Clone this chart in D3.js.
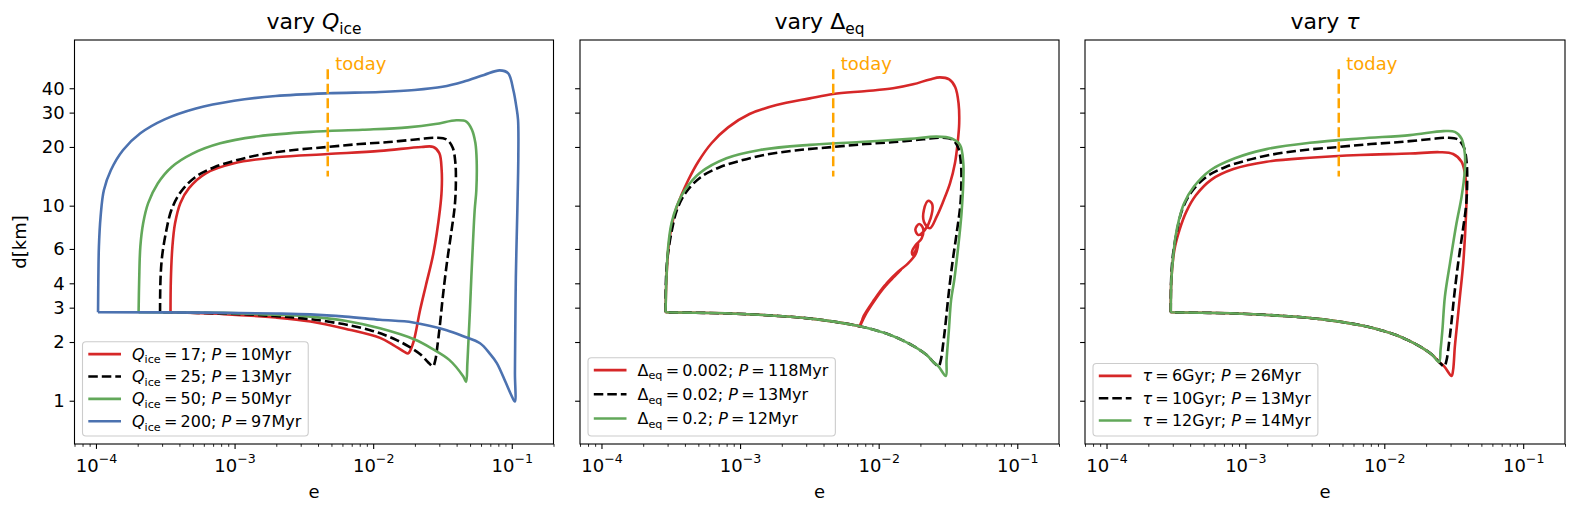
<!DOCTYPE html>
<html><head><meta charset="utf-8">
<script src="https://cdn.jsdelivr.net/npm/d3@7"></script>
<style>
html,body{margin:0;padding:0;background:#fff;overflow:hidden;}
text{font-family:"DejaVu Sans",sans-serif;}
</style></head><body>
<svg id="chart" width="1578" height="516"></svg>
<script>
// ---------------- DATA ----------------
const xMajor = [1e-4, 1e-3, 1e-2, 1e-1];
const xMajorExp = ["\u22124", "\u22123", "\u22122", "\u22121"];
const yTicks = [1, 2, 3, 4, 6, 10, 20, 30, 40];
const eToday = 0.0047;
const todayD = [50, 14.1];

// common lower branch (panels 2-3 and baseline run), from right to left
const bottomE = [0.0305, 0.0270, 0.0248, 0.0221, 0.0180, 0.0149, 0.0120, 0.0099, 0.0069, 0.0035, 0.0019, 0.00085, 0.00029];
const bottomD = [1.34, 1.50, 1.58, 1.72, 1.90, 2.04, 2.18, 2.28, 2.43, 2.62, 2.72, 2.80, 2.84];

// baseline (black dashed): Q_ice=25, Delta_eq=0.02, tau=10Gyr  (upper part)
const baseE = [2.9e-4, 2.92e-4, 3.0e-4, 3.2e-4, 3.5e-4, 4.1e-4, 5.2e-4, 7.2e-4, 1.0e-3, 1.5e-3, 2.5e-3, 4.7e-3, 8.0e-3, 0.0130, 0.0210, 0.0285, 0.0340, 0.0375, 0.0392, 0.0395, 0.0388, 0.0368, 0.0340, 0.0318, 0.0304, 0.0293, 0.0280];
const baseD = [2.84, 4.16, 5.5, 7.3, 9.5, 11.8, 14.0, 15.8, 17.0, 18.2, 19.2, 20.0, 20.7, 21.2, 21.9, 22.3, 21.8, 19.8, 16.5, 13.0, 10.0, 7.5, 5.06, 3.41, 2.50, 2.0, 1.6];

// panel 1: vary Q_ice
const q17E = [3.45e-4, 3.47e-4, 3.56e-4, 3.72e-4, 4.06e-4, 4.69e-4, 6.25e-4, 9.93e-4, 1.98e-3, 4.71e-3, 0.0112, 0.0223, 0.0272, 0.0300, 0.0312, 0.0312, 0.0303, 0.0272, 0.0240, 0.0218, 0.0194, 0.0179, 0.0168, 0.0140, 0.0112, 6.28e-3, 3.53e-3, 1.98e-3, 8.36e-4, 3.45e-4];
const q17D = [2.84, 4.16, 6.17, 8.12, 10.3, 12.3, 14.7, 16.5, 17.7, 18.4, 19.1, 20.0, 20.0, 18.6, 15.2, 12.0, 9.5, 5.7, 3.9, 2.92, 1.97, 1.75, 1.78, 1.93, 2.10, 2.34, 2.55, 2.67, 2.78, 2.84];

const q50E = [2.03e-4, 2.05e-4, 2.09e-4, 2.19e-4, 2.38e-4, 2.79e-4, 3.52e-4, 4.97e-4, 7.88e-4, 1.49e-3, 3.53e-3, 8.38e-3, 0.0177, 0.0281, 0.0398, 0.0470, 0.0515, 0.0546, 0.0558, 0.0555, 0.0540, 0.0525, 0.0511, 0.0500, 0.0486, 0.0478, 0.0468, 0.0447, 0.0354, 0.0266, 0.0199, 0.0112, 6.28e-3, 3.53e-3, 1.98e-3, 8.36e-4, 2.03e-4];
const q50D = [2.84, 4.16, 6.17, 8.12, 10.3, 13.0, 15.8, 18.5, 20.9, 22.7, 23.9, 24.5, 25.2, 26.2, 27.4, 27.0, 24.6, 21.0, 17.1, 12.0, 9.5, 6.5, 4.32, 3.0, 1.97, 1.55, 1.25, 1.33, 1.62, 1.85, 2.06, 2.35, 2.57, 2.70, 2.76, 2.82, 2.84];

const q200E = [1.035e-4, 1.04e-4, 1.05e-4, 1.08e-4, 1.14e-4, 1.28e-4, 1.57e-4, 2.09e-4, 3.13e-4, 5.26e-4, 9.93e-4, 1.98e-3, 4.71e-3, 0.0112, 0.0199, 0.0316, 0.0447, 0.0631, 0.0818, 0.094, 0.1026, 0.108, 0.111, 0.1115, 0.1097, 0.107, 0.1058, 0.1054, 0.1052, 0.0985, 0.090, 0.078, 0.0696, 0.059, 0.0447, 0.0339, 0.0194, 0.0112, 6.28e-3, 3.53e-3, 1.98e-3, 6.25e-4, 1.035e-4];
const q200D = [2.84, 4.16, 6.17, 8.79, 12.0, 15.2, 19.3, 23.5, 27.7, 31.5, 34.5, 36.5, 37.7, 38.3, 39.2, 40.7, 43.2, 46.8, 49.4, 47.8, 39.2, 32.0, 27.5, 18.0, 9.5, 4.3, 1.97, 1.38, 0.99, 1.08, 1.25, 1.56, 1.74, 1.97, 2.14, 2.30, 2.52, 2.60, 2.70, 2.77, 2.80, 2.83, 2.84];

// panel 2: vary Delta_eq
const d002E = [2.9e-4, 2.94e-4, 3.05e-4, 3.20e-4, 3.43e-4, 3.77e-4, 4.22e-4, 4.99e-4, 6.22e-4, 8.20e-4, 1.17e-3, 1.83e-3, 3.18e-3, 4.70e-3, 8.17e-3, 0.0127, 0.0177, 0.0234, 0.0277, 0.0323, 0.0357, 0.0377, 0.0381, 0.0371, 0.0355, 0.0327, 0.0292, 0.0262, 0.0234, 0.0212, 0.0212, 0.0228, 0.0243, 0.0237, 0.0215, 0.0193, 0.0184, 0.0196, 0.0209, 0.0204, 0.0185, 0.0174, 0.0176, 0.0188, 0.0193, 0.0185, 0.0163, 0.0138, 0.0117, 9.93e-3, 8.40e-3, 7.3e-3, 7.6e-3, 8.9e-3, 0.0106, 0.0125, 0.0146, 0.0130, 0.0110, 9.3e-3, 7.8e-3, 7.3e-3];
const d002D = [2.84, 4.16, 6.17, 7.80, 9.50, 11.3, 13.5, 16.8, 20.9, 25.2, 29.5, 32.8, 35.5, 37.4, 38.7, 40.0, 41.9, 44.4, 45.5, 44.4, 40.5, 33.5, 26.4, 20.9, 16.5, 13.0, 10.5, 8.79, 7.66, 8.28, 9.50, 10.6, 10.2, 8.61, 7.50, 7.08, 7.57, 8.06, 7.66, 6.79, 6.28, 5.81, 5.58, 6.04, 6.41, 5.65, 5.06, 4.59, 4.08, 3.48, 2.92, 2.41, 2.58, 3.10, 3.70, 4.22, 4.72, 4.38, 3.88, 3.30, 2.72, 2.41];

const d02E = [2.9e-4, 2.94e-4, 3.03e-4, 3.20e-4, 3.48e-4, 3.99e-4, 5.12e-4, 7.98e-4, 1.39e-3, 3.18e-3, 7.31e-3, 0.0168, 0.0262, 0.0336, 0.0386, 0.0408, 0.0408, 0.0396, 0.0375, 0.0351, 0.0333, 0.0321, 0.0309];
const d02D = [2.84, 4.16, 6.17, 8.12, 9.88, 12.0, 14.7, 17.5, 19.3, 20.5, 21.2, 22.0, 22.6, 22.1, 20.5, 16.5, 13.5, 9.14, 6.17, 4.16, 3.28, 2.30, 1.62];

// panel 3: vary tau
const tau6E = [2.9e-4, 2.93e-4, 3.08e-4, 3.35e-4, 3.75e-4, 4.4e-4, 5.7e-4, 8.2e-4, 1.42e-3, 2.91e-3, 6.67e-3, 0.0153, 0.0251, 0.0313, 0.0360, 0.0380, 0.0391, 0.0387, 0.0370, 0.0350, 0.0331, 0.0322, 0.0313];
const tau6D = [2.84, 4.16, 5.93, 7.50, 9.3, 11.3, 13.6, 15.4, 16.8, 17.6, 18.2, 18.5, 18.8, 18.4, 16.8, 14.7, 12.0, 8.79, 5.06, 3.41, 2.30, 1.89, 1.44];

const tau12E = [2.9e-4, 2.93e-4, 3.02e-4, 3.14e-4, 3.32e-4, 3.62e-4, 4.25e-4, 5.6e-4, 8.4e-4, 1.42e-3, 2.91e-3, 6.67e-3, 0.0153, 0.0266, 0.0322, 0.0360, 0.0380, 0.0380, 0.0360, 0.0331, 0.0297, 0.0273, 0.0262, 0.0254];
const tau12D = [2.84, 4.16, 5.47, 6.94, 8.43, 10.3, 12.5, 15.2, 17.5, 19.5, 21.0, 22.1, 23.0, 24.1, 23.9, 22.1, 18.5, 15.2, 11.1, 8.12, 5.06, 3.41, 2.30, 1.82];

// legend labels
const qVals = ["17", "25", "50", "200"];
const qPer  = ["10", "13", "50", "97"];
const dVals = ["0.002", "0.02", "0.2"];
const dPer  = ["118", "13", "12"];
const tVals = ["6", "10", "12"];
const tPer  = ["26", "13", "14"];

// ---------------- HELPERS ----------------
const zip = (E, D) => E.map((e, i) => [e, D[i]]);
const withBottom = (E, D, from) => zip(E.concat(bottomE.slice(from)), D.concat(bottomD.slice(from)));

const RED = "#d62728", BLACK = "#000000", GREEN = "#62a85a", BLUE = "#4c72b0", ORANGE = "#ffa500";
const LW = 2.6, DASH = "9.5,4";
const TS = "\u2009"; // thin space used around '=' (math spacing)
const EQ = TS + "=" + TS;

const baseline = withBottom(baseE, baseD, 1);

const panels = [
  { x0: 74.5, x1: 553.5, ylabels: true,
    title: [["vary ", "n"], ["Q", "i"], ["ice", "sub"]],
    series: [
      { pts: zip(q17E, q17D), color: RED },
      { pts: baseline, color: BLACK, dash: true },
      { pts: zip(q50E, q50D), color: GREEN },
      { pts: zip(q200E, q200D), color: BLUE }
    ],
    legend: { rows: qVals.map((v, i) => [["Q", "i"], ["ice", "sub"], [EQ + v + "; ", "n"], ["P", "i"], [EQ + qPer[i] + "Myr", "n"]]),
              order: [0, 1, 2, 3], bottomPad: 14.7, rowH: 22.4 }
  },
  { x0: 580, x1: 1059, ylabels: false,
    title: [["vary ", "n"], ["\u0394", "n"], ["eq", "sub"]],
    series: [
      { pts: withBottom(d002E, d002D, 8), color: RED },
      { pts: baseline, color: BLACK, dash: true },
      { pts: withBottom(d02E, d02D, 0), color: GREEN }
    ],
    legend: { rows: dVals.map((v, i) => [["\u0394", "n"], ["eq", "sub"], [EQ + v + "; ", "n"], ["P", "i"], [EQ + dPer[i] + "Myr", "n"]]),
              order: [0, 1, 2], bottomPad: 17.5, rowH: 24.2 }
  },
  { x0: 1085, x1: 1565, ylabels: false,
    title: [["vary ", "n"], ["\u03c4", "i"]],
    series: [
      { pts: withBottom(tau6E, tau6D, 0), color: RED },
      { pts: baseline, color: BLACK, dash: true },
      { pts: withBottom(tau12E, tau12D, 2), color: GREEN }
    ],
    legend: { rows: tVals.map((v, i) => [["\u03c4", "i"], [EQ + v + "Gyr; ", "n"], ["P", "i"], [EQ + tPer[i] + "Myr", "n"]]),
              order: [0, 1, 2], bottomPad: 15.5, rowH: 22.3 }
  }
];

const plotTop = 40, plotBottom = 444;
const xDomain = [7e-5, 0.2], yDomain = [0.6, 70.7];

function rich(sel, parts, fs) {
  let shift = 0;
  parts.forEach(([t, s]) => {
    const ts = sel.append("tspan").text(t);
    if (s === "i") ts.attr("font-style", "italic");
    if (s === "sub") {
      const target = fs * 0.24;
      ts.attr("font-size", fs * 0.7).attr("dy", target - shift);
      shift = target;
    } else if (shift !== 0) {
      ts.attr("dy", -shift); shift = 0;
    }
  });
}

const svg = d3.select("#chart");
svg.append("rect").attr("width", 1578).attr("height", 516).attr("fill", "#fff");

const xMinor = [];
for (let k = -5; k <= -1; k++) for (let m = 2; m <= 9; m++) {
  const v = m * Math.pow(10, k);
  if (v >= xDomain[0] && v <= xDomain[1]) xMinor.push(v);
}

panels.forEach((p, pi) => {
  const x = d3.scaleLog().domain(xDomain).range([p.x0, p.x1]);
  const y = d3.scaleLog().domain(yDomain).range([plotBottom, plotTop]);
  const g = svg.append("g");

  const clipId = "clip" + pi;
  g.append("clipPath").attr("id", clipId).append("rect")
    .attr("x", p.x0).attr("y", plotTop).attr("width", p.x1 - p.x0).attr("height", plotBottom - plotTop);

  const line = d3.line().x(d => x(d[0])).y(d => y(d[1])).curve(d3.curveCatmullRom.alpha(0.5));
  const plot = g.append("g").attr("clip-path", `url(#${clipId})`);
  p.series.forEach(s => {
    plot.append("path").attr("d", line(s.pts)).attr("fill", "none")
      .attr("stroke", s.color).attr("stroke-width", LW)
      .attr("stroke-linejoin", "round")
      .attr("stroke-dasharray", s.dash ? DASH : null);
  });

  // today marker
  plot.append("path").attr("d", d3.line()(todayD.map(d => [x(eToday), y(d)])))
    .attr("stroke", ORANGE).attr("stroke-width", 2.5).attr("stroke-dasharray", "10,4.5").attr("fill", "none");
  g.append("text").attr("x", x(eToday) + 7.5).attr("y", 70).attr("fill", ORANGE)
    .attr("font-size", 18).text("today");

  // frame
  g.append("rect").attr("x", p.x0).attr("y", plotTop).attr("width", p.x1 - p.x0).attr("height", plotBottom - plotTop)
    .attr("fill", "none").attr("stroke", "#000").attr("stroke-width", 1.1);

  // x axis: minor ticks
  const gxm = g.append("g").attr("transform", `translate(0,${plotBottom})`)
    .call(d3.axisBottom(x).tickValues(xMinor).tickSize(2.8).tickFormat(() => ""));
  gxm.select(".domain").remove();
  gxm.selectAll(".tick line").attr("stroke", "#000").attr("stroke-width", 0.85);
  gxm.selectAll(".tick text").remove();

  // x axis: major ticks
  const gx = g.append("g").attr("transform", `translate(0,${plotBottom})`)
    .call(d3.axisBottom(x).tickValues(xMajor).tickSize(4.9).tickPadding(4.9).tickFormat(() => ""));
  gx.attr("font-family", null).attr("font-size", null);
  gx.select(".domain").remove();
  gx.selectAll(".tick line").attr("stroke", "#000").attr("stroke-width", 1.1);
  gx.selectAll(".tick text").each(function (d, i) {
    const t = d3.select(this);
    t.text(null).attr("y", 28).attr("dy", null).attr("font-size", 18).attr("fill", "#000");
    t.append("tspan").text("10");
    t.append("tspan").attr("dy", -9).attr("font-size", 12.6).text(xMajorExp[i]);
  });

  // y axis
  const gy = g.append("g").attr("transform", `translate(${p.x0},0)`)
    .call(d3.axisLeft(y).tickValues(yTicks).tickSize(4.9).tickPadding(4.9)
      .tickFormat(p.ylabels ? d3.format("d") : () => ""));
  gy.attr("font-family", null).attr("font-size", null);
  gy.select(".domain").remove();
  gy.selectAll(".tick line").attr("stroke", "#000").attr("stroke-width", 1.1);
  gy.selectAll(".tick text").attr("font-size", 18).attr("fill", "#000");

  // axis labels
  g.append("text").attr("x", (p.x0 + p.x1) / 2).attr("y", 498).attr("text-anchor", "middle")
    .attr("font-size", 18).text("e");
  if (p.ylabels) {
    g.append("text").attr("transform", `translate(26,${(plotTop + plotBottom) / 2}) rotate(-90)`)
      .attr("text-anchor", "middle").attr("font-size", 18).text("d[km]");
  }

  // title
  const tt = g.append("text").attr("x", (p.x0 + p.x1) / 2).attr("y", 29).attr("text-anchor", "middle")
    .attr("font-size", 22);
  rich(tt, p.title, 22);

  // legend
  const L = p.legend, n = L.rows.length, fs = 16;
  const boxLeft = p.x0 + 8, boxBottom = plotBottom - 8;
  const rowY = L.rows.map((r, k) => boxBottom - L.bottomPad - (n - 1 - k) * L.rowH);
  const boxTop = rowY[0] - 12.4;
  const lg = g.append("g");
  const box = lg.append("rect").attr("x", boxLeft).attr("y", boxTop).attr("height", boxBottom - boxTop)
    .attr("rx", 3.5).attr("fill", "#fff").attr("fill-opacity", 0.8).attr("stroke", "#cccccc").attr("stroke-width", 1.1);
  let maxLen = 0;
  L.rows.forEach((parts, k) => {
    const s = p.series[L.order[k]];
    lg.append("line").attr("x1", boxLeft + 5.8).attr("x2", boxLeft + 38.5)
      .attr("y1", rowY[k]).attr("y2", rowY[k])
      .attr("stroke", s.color).attr("stroke-width", LW).attr("stroke-dasharray", s.dash ? DASH : null);
    const t = lg.append("text").attr("x", boxLeft + 49.5).attr("y", rowY[k] + 5.5).attr("font-size", fs);
    rich(t, parts, fs);
    maxLen = Math.max(maxLen, t.node().getComputedTextLength());
  });
  box.attr("width", 49.5 + maxLen + 7);
});
</script>
</body></html>
